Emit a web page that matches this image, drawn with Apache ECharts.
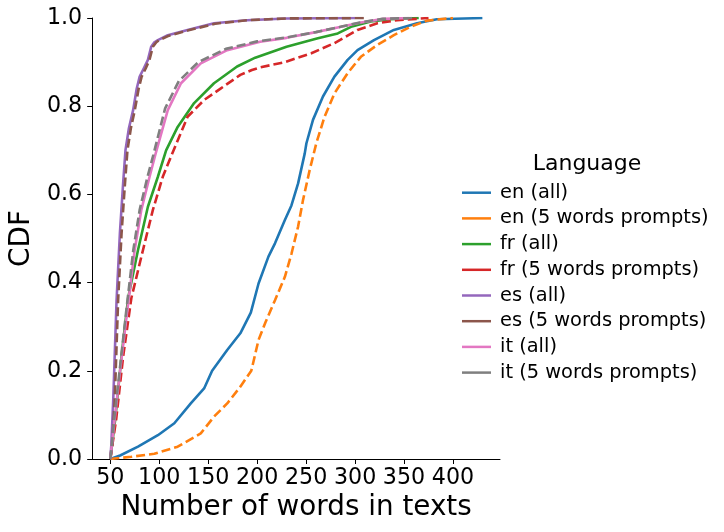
<!DOCTYPE html>
<html>
<head>
<meta charset="utf-8">
<script src="https://cdn.jsdelivr.net/npm/echarts@6/dist/echarts.min.js"></script>
<style>html,body{margin:0;padding:0;background:#fff;}#c{width:724px;height:532px;}</style>
</head>
<body>
<div id="c"></div>
<script>
// ---- data: [number of words, CDF] ----
const seriesNames = ['en (all)', 'en (5 words prompts)', 'fr (all)', 'fr (5 words prompts)',
  'es (all)', 'es (5 words prompts)', 'it (all)', 'it (5 words prompts)'];
const xTicks = [50, 100, 150, 200, 250, 300, 350, 400];
const yTicks = [0, 0.2, 0.4, 0.6, 0.8, 1.0];

const enAll = [[50,0],[60,0.008],[78.3,0.028],[98.6,0.054],[115.4,0.081],[132.2,0.126],[145.8,0.16],[154,0.2],[169.4,0.247],[182.8,0.285],[193.5,0.332],[201.4,0.398],[211.5,0.459],[218.2,0.489],[228.3,0.542],[235,0.575],[241.8,0.625],[248.6,0.693],[250.3,0.716],[257,0.769],[267.2,0.822],[278.9,0.867],[292.4,0.905],[302.5,0.927],[319.3,0.95],[339.6,0.973],[363.3,0.988],[383.5,0.997],[430,1.0]];
const en5 = [[50,0],[71.5,0.005],[95,0.012],[118.8,0.028],[142.4,0.058],[155.9,0.096],[169.4,0.126],[182.8,0.164],[194,0.2],[201.4,0.27],[208.5,0.31],[218.2,0.36],[228.3,0.413],[235.1,0.466],[241.8,0.527],[246.8,0.587],[253.6,0.655],[260.4,0.716],[268.8,0.776],[278.9,0.829],[292.4,0.875],[305.9,0.912],[322.7,0.939],[339.6,0.961],[356.5,0.98],[373.3,0.994],[400,1.0]];
const frAll = [[50,0],[55,0.09],[61.4,0.232],[68.2,0.365],[78.3,0.474],[88.4,0.572],[98.6,0.64],[107,0.70],[118.8,0.753],[135.6,0.807],[155.9,0.852],[179.5,0.89],[198,0.91],[230,0.935],[262,0.954],[282.3,0.965],[295.8,0.98],[316,0.992],[336,0.997],[365,1.0]];
const fr5 = [[50,0],[56,0.09],[63.1,0.232],[71.5,0.365],[83.4,0.474],[93.5,0.565],[103.6,0.64],[112,0.686],[128.9,0.776],[145.8,0.814],[162.6,0.84],[182.8,0.871],[194.6,0.882],[203,0.888],[228.3,0.90],[255.3,0.92],[278.9,0.943],[302.5,0.973],[322.7,0.988],[343,0.995],[375,1.0]];
const esAll = [[50,0],[51,0.03],[53,0.134],[56.4,0.36],[59.8,0.512],[63.1,0.625],[65.5,0.70],[69,0.75],[73.3,0.791],[77,0.84],[80,0.867],[84,0.885],[88.4,0.905],[91.8,0.935],[95,0.945],[98.6,0.95],[108.7,0.961],[128.9,0.973],[155.9,0.988],[189.6,0.995],[230,0.999],[300,1.0]];
const es5 = [[50,0],[52,0.03],[54.5,0.134],[58,0.36],[61.5,0.512],[65,0.625],[67.5,0.70],[71,0.75],[75,0.791],[79,0.84],[82,0.867],[86,0.885],[90,0.905],[93.5,0.935],[97,0.945],[100,0.95],[110,0.96],[130,0.972],[157,0.987],[190,0.995],[230,0.999],[310,1.0]];
const itAll = [[50,0],[55,0.1],[60,0.2],[67,0.33],[74.9,0.474],[81.7,0.565],[90.1,0.64],[96,0.69],[108.7,0.791],[122.2,0.852],[142.4,0.897],[169.4,0.927],[203,0.946],[230,0.955],[260,0.968],[285.7,0.98],[306,0.99],[329,0.998],[355,1.0]];
const it5 = [[50,0],[54.5,0.1],[59.5,0.2],[66,0.33],[73.5,0.474],[80,0.565],[88,0.64],[94,0.69],[106,0.795],[120,0.857],[140,0.9],[168,0.93],[200,0.947],[230,0.956],[260,0.968],[285,0.98],[305,0.99],[328,0.998],[360,1.0]];

const seriesData = [enAll, en5, frAll, fr5, esAll, es5, itAll, it5];
const colors = ['#1f77b4','#ff7f0e','#2ca02c','#d62728','#9467bd','#8c564b','#e377c2','#7f7f7f'];
const dashed = [false, true, false, true, false, true, false, true];

const FONT = 'DejaVu Sans';
const chart = echarts.init(document.getElementById('c'), null, {renderer: 'canvas'});
chart.setOption({
  animation: false,
  backgroundColor: '#fff',
  color: colors,
  textStyle: {fontFamily: FONT},
  grid: {left: 89, right: 224, top: 18, bottom: 73, containLabel: false},
  title: {
    text: 'Language', left: 582, top: 148, textAlign: 'center',
    textStyle: {fontFamily: FONT, fontSize: 22, fontWeight: 'normal', color: '#000'}
  },
  legend: {
    orient: 'vertical', left: 457, top: 178,
    icon: 'rect', itemWidth: 29, itemHeight: 2.5, itemGap: 6.3,
    data: seriesNames,
    textStyle: {fontFamily: FONT, fontSize: 19.4, color: '#000', lineHeight: 19.4, padding: [0,0,0,4]},
    selectedMode: false
  },
  xAxis: {
    type: 'value', min: 31.5, max: 448,
    name: 'Number of words in texts', nameLocation: 'middle', nameGap: 31,
    nameTextStyle: {fontFamily: FONT, fontSize: 27.8, color: '#000'},
    axisLine: {show: true, onZero: false, lineStyle: {color: '#000', width: 1}},
    axisTick: {show: true, inside: false, length: 5, lineStyle: {color: '#000'}, customValues: xTicks},
    axisLabel: {fontFamily: FONT, fontSize: 22.2, color: '#000', margin: 8, customValues: xTicks},
    splitLine: {show: false}
  },
  yAxis: {
    type: 'value', min: 0, max: 1, interval: 0.2,
    name: 'CDF', nameLocation: 'middle', nameGap: 50,
    nameTextStyle: {fontFamily: FONT, fontSize: 27.8, color: '#000'},
    axisLine: {show: true, lineStyle: {color: '#000', width: 1}},
    axisTick: {show: true, inside: false, length: 5, lineStyle: {color: '#000'}},
    axisLabel: {fontFamily: FONT, fontSize: 22.2, color: '#000', margin: 10,
      formatter: v => v.toFixed(1)},
    splitLine: {show: false}
  },
  series: seriesNames.map((n, i) => ({
    name: n, type: 'line', data: seriesData[i],
    showSymbol: false, symbol: 'none', smooth: false,
    lineStyle: {color: colors[i], width: 2.6, type: dashed[i] ? [9, 4] : 'solid'},
    itemStyle: {color: colors[i]},
    z: 2
  }))
});
</script>
</body>
</html>
